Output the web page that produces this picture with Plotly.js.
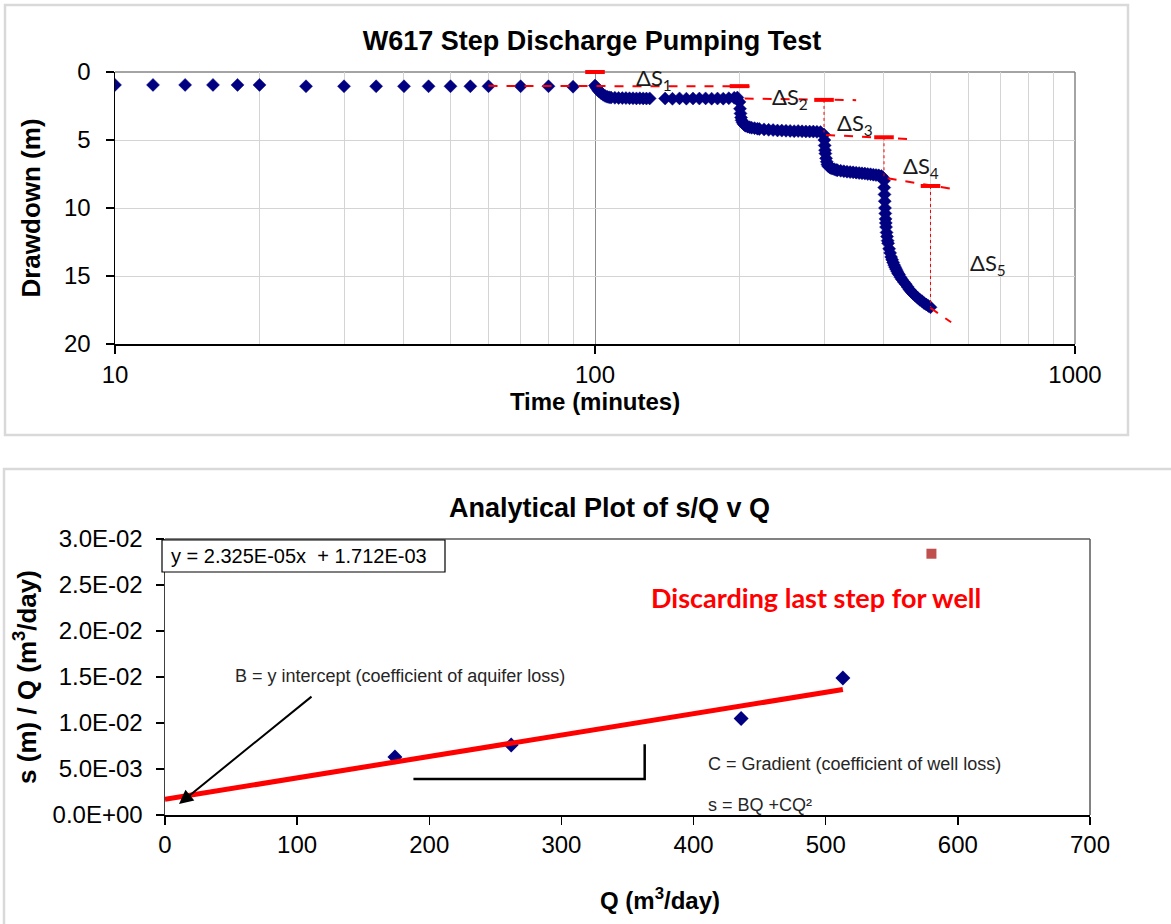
<!DOCTYPE html>
<html>
<head>
<meta charset="utf-8">
<script src="https://cdn.plot.ly/plotly-3.0.1.min.js"></script>
<style>
  html, body { margin: 0; padding: 0; background: #ffffff; }
  #chart { width: 1171px; height: 924px; }
</style>
</head>
<body>
<div id="chart"></div>
<script>
// ---------- Top chart data: W617 step discharge test (time in minutes, drawdown in m) ----------
const preTime   = [10, 12, 14, 16, 18, 20, 25, 30, 35, 40, 45, 50, 55, 60, 70, 80, 90];
const preDraw   = [0.95, 0.95, 0.95, 0.95, 0.95, 0.95, 1.05, 1.05, 1.05, 1.05, 1.05, 1.05, 1.05, 1.05, 1.05, 1.05, 1.08];

const step1Time = [100, 100.5, 101, 101.5, 102, 103, 104, 105, 106, 107, 108, 110, 112, 114, 116, 118, 120, 122, 124, 126, 128, 130,
                   140, 145, 150, 155, 160, 165, 170, 175, 180, 185, 190, 195, 198];
const step1Draw = [1.0, 1.1, 1.22, 1.33, 1.43, 1.57, 1.68, 1.76, 1.82, 1.86, 1.88, 1.9, 1.91, 1.92, 1.92, 1.93, 1.93, 1.94, 1.93, 1.94, 1.95, 1.94,
                   1.95, 1.97, 1.94, 1.96, 1.95, 1.95, 1.94, 1.96, 1.95, 1.96, 1.93, 1.9, 1.88];

const step2Time = [200, 200.5, 201, 201.5, 202, 203, 204, 205, 206, 208, 210, 212, 215, 218, 220, 225, 230, 235, 240, 245,
                   250, 255, 260, 265, 270, 275, 280, 285, 290, 295];
const step2Draw = [2.2, 2.7, 3.05, 3.35, 3.55, 3.72, 3.83, 3.9, 3.95, 4.02, 4.06, 4.1, 4.13, 4.17, 4.19, 4.22, 4.25, 4.27, 4.3, 4.31,
                   4.32, 4.33, 4.35, 4.34, 4.36, 4.37, 4.38, 4.38, 4.4, 4.42];

const step3Time = [300, 300.5, 301, 301.5, 302, 303, 304, 305, 306, 308, 310, 312, 315, 318, 320, 325, 330, 335, 340, 345,
                   350, 355, 360, 365, 370, 375, 380, 385, 390, 395, 398];
const step3Draw = [4.6, 5.0, 5.4, 5.75, 6.0, 6.35, 6.6, 6.8, 6.92, 7.0, 7.05, 7.1, 7.15, 7.2, 7.22, 7.26, 7.3, 7.33, 7.36, 7.38,
                   7.4, 7.43, 7.45, 7.47, 7.5, 7.52, 7.55, 7.58, 7.6, 7.65, 7.75];

const step4Time = [400, 400.5, 401, 401.5, 402, 402.5, 403, 403.5, 404, 405, 406, 407, 408, 410, 412, 414, 416, 418, 420, 422,
                   424, 426, 428, 430, 433, 436, 440, 444, 448, 452, 456, 460, 465, 470, 475, 480, 485, 490, 495, 500];
const step4Draw = [8.0, 8.5, 9.0, 9.5, 10.0, 10.4, 10.8, 11.1, 11.4, 11.8, 12.1, 12.4, 12.6, 13.0, 13.3, 13.6, 13.8, 14.0, 14.2, 14.35,
                   14.5, 14.65, 14.8, 14.9, 15.1, 15.25, 15.45, 15.6, 15.8, 16.0, 16.15, 16.3, 16.45, 16.6, 16.75, 16.85, 17.0, 17.1, 17.2, 17.3];

// extrapolation (Delta S) construction lines
const ds1Time = [60, 215],  ds1Draw = [1.02, 1.06];
const ds2Time = [205, 350], ds2Draw = [1.95, 2.07];
const ds3Time = [303, 452], ds3Draw = [4.63, 4.93];
const ds4Time = [407, 552], ds4Draw = [7.82, 8.58];
const ds5Time = [500, 552], ds5Draw = [17.35, 18.4];
// vertical drops
const drop2Time = [300, 300], drop2Draw = [2.05, 4.45];
const drop3Time = [400, 400], drop3Draw = [4.8, 7.75];
const drop4Time = [500, 500], drop4Draw = [8.38, 17.3];
// step markers (red dashes)
const markTime = [100, 200, 300, 400, 500];
const markDraw = [0, 1.04, 2.05, 4.8, 8.38];

const xTickVals1 = [10, 100, 1000];
const xTickText1 = ['10', '100', '1000'];
const xMinorVals1 = [20, 30, 40, 50, 60, 70, 80, 90, 200, 300, 400, 500, 600, 700, 800, 900];
const yTickVals1 = [0, 5, 10, 15, 20];

// ---------- Bottom chart data: s/Q vs Q ----------
const qValues   = [174, 262, 436, 513];
const sqValues  = [0.0063, 0.0076, 0.0105, 0.0149];
const qDiscard  = [580];
const sqDiscard = [0.0284];
const trendSlope = 2.325e-5;
const trendIntercept = 1.712e-3;
const trendQ = [0, 513];
const bracketQ  = [188, 363, 363];
const bracketSQ = [0.0039, 0.0039, 0.0077];

const xTickVals2 = [0, 100, 200, 300, 400, 500, 600, 700];
const yTickVals2 = [0, 0.005, 0.01, 0.015, 0.02, 0.025, 0.03];
const yTickText2 = ['0.0E+00', '5.0E-03', '1.0E-02', '1.5E-02', '2.0E-02', '2.5E-02', '3.0E-02'];

// ---------- helpers ----------
const W = 1171, H = 924;
const px = v => v / W;
const py = v => 1 - v / H;
const FONT = 'Liberation Sans, Arial, sans-serif';
const CAL = 'Lato, Carlito, Calibri, sans-serif';
const NAVY = '#000080';
const RED = '#ff0000';

const allTime = [].concat(preTime, step1Time, step2Time, step3Time, step4Time);
const allDraw = [].concat(preDraw, step1Draw, step2Draw, step3Draw, step4Draw);

function dashLine(t, d) {
  return {x: t, y: d, xaxis: 'x', yaxis: 'y', mode: 'lines', hoverinfo: 'skip',
          line: {color: RED, width: 2, dash: 'dash'}, showlegend: false};
}
function dotLine(t, d) {
  return {x: t, y: d, xaxis: 'x', yaxis: 'y', mode: 'lines', hoverinfo: 'skip',
          line: {color: RED, width: 1, dash: 'dot'}, showlegend: false};
}

const trendSQ = trendQ.map(q => trendSlope * q + trendIntercept);

const traces = [
  {x: allTime, y: allDraw, xaxis: 'x', yaxis: 'y', mode: 'markers', showlegend: false,
   marker: {symbol: 'diamond', size: 10, color: NAVY, line: {color: NAVY, width: 0.5}}},
  dashLine(ds1Time, ds1Draw), dashLine(ds2Time, ds2Draw), dashLine(ds3Time, ds3Draw),
  dashLine(ds4Time, ds4Draw), dashLine(ds5Time, ds5Draw),
  dotLine(drop2Time, drop2Draw), dotLine(drop3Time, drop3Draw), dotLine(drop4Time, drop4Draw),
  {x: markTime, y: markDraw, xaxis: 'x', yaxis: 'y', mode: 'markers', showlegend: false, cliponaxis: false,
   marker: {symbol: 'line-ew', size: 14, color: RED, line: {color: RED, width: 4}}},

  {x: qValues, y: sqValues, xaxis: 'x2', yaxis: 'y2', mode: 'markers', showlegend: false,
   marker: {symbol: 'diamond', size: 11.5, color: NAVY}},
  {x: qDiscard, y: sqDiscard, xaxis: 'x2', yaxis: 'y2', mode: 'markers', showlegend: false,
   marker: {symbol: 'square', size: 10, color: '#c0504d'}},
  {x: trendQ, y: trendSQ, xaxis: 'x2', yaxis: 'y2', mode: 'lines', showlegend: false,
   line: {color: RED, width: 5}},
  {x: bracketQ, y: bracketSQ, xaxis: 'x2', yaxis: 'y2', mode: 'lines', showlegend: false,
   line: {color: '#000000', width: 2.5}}
];

const tickFont = {family: FONT, size: 24, color: '#000'};
const xTitleFont = {family: FONT, size: 24, color: '#000'};
const yTitleFont = {family: FONT, size: 26, color: '#000'};

const layout = {
  width: W, height: H,
  margin: {l: 0, r: 0, t: 0, b: 0},
  paper_bgcolor: '#ffffff', plot_bgcolor: '#ffffff',
  showlegend: false,
  title: {text: '<b>W617 Step Discharge Pumping Test</b>', x: px(592), xanchor: 'center',
          y: py(41), yanchor: 'middle', font: {family: FONT, size: 27, color: '#000'}},
  xaxis: {
    type: 'log', domain: [px(115), px(1075)], range: [1, 3], anchor: 'y',
    tickmode: 'array', tickvals: xTickVals1, ticktext: xTickText1,
    ticks: 'outside', ticklen: 8, tickwidth: 1.5, tickcolor: '#000',
    showline: true, linecolor: '#000', linewidth: 1.5,
    showgrid: true, gridcolor: '#8c8c8c', gridwidth: 1,
    minor: {tickmode: 'array', tickvals: xMinorVals1, showgrid: true, gridcolor: '#d4d4d4', gridwidth: 1, ticks: ''},
    zeroline: false, tickfont: tickFont, ticklabelstandoff: 1,
    title: {text: '<b>Time (minutes)</b>', font: xTitleFont, standoff: 5}
  },
  yaxis: {
    domain: [py(344), py(72)], range: [20, 0], anchor: 'x',
    tickmode: 'array', tickvals: yTickVals1,
    ticks: 'outside', ticklen: 8, tickwidth: 1.5, tickcolor: '#000',
    showline: true, linecolor: '#000', linewidth: 1.5,
    showgrid: true, gridcolor: '#d4d4d4', gridwidth: 1,
    zeroline: false, tickfont: tickFont, ticklabelstandoff: 10,
    title: {text: '<b>Drawdown (m)</b>', font: yTitleFont, standoff: 16}
  },
  xaxis2: {
    domain: [px(165), px(1090)], range: [0, 700], anchor: 'y2',
    tickmode: 'array', tickvals: xTickVals2,
    ticks: 'outside', ticklen: 8, tickwidth: 1.5, tickcolor: '#000',
    showline: true, linecolor: '#000', linewidth: 1.5,
    showgrid: false, zeroline: false, tickfont: tickFont, ticklabelstandoff: 0
  },
  yaxis2: {
    domain: [py(815), py(539)], range: [0, 0.03], anchor: 'x2',
    tickmode: 'array', tickvals: yTickVals2, ticktext: yTickText2,
    ticks: 'outside', ticklen: 8, tickwidth: 1.5, tickcolor: '#000',
    showline: true, linecolor: '#404040', linewidth: 1.5,
    showgrid: false, zeroline: false, tickfont: tickFont, ticklabelstandoff: 8,
    title: {text: '<b>s (m) / Q (m<sup>3</sup>/day)</b>', font: yTitleFont, standoff: 8}
  },
  shapes: [
    // outer chart frames
    {type: 'rect', xref: 'paper', yref: 'paper', x0: px(5), x1: px(1128), y0: py(435), y1: py(5),
     line: {color: '#d9d9d9', width: 2.5}, fillcolor: 'rgba(0,0,0,0)', layer: 'below'},
    {type: 'rect', xref: 'paper', yref: 'paper', x0: px(4), x1: px(1180), y0: py(940), y1: py(469),
     line: {color: '#d9d9d9', width: 2.5}, fillcolor: 'rgba(0,0,0,0)', layer: 'below'},
    // plot area top / right borders
    {type: 'line', xref: 'x domain', yref: 'y domain', x0: 0, x1: 1, y0: 1, y1: 1, line: {color: '#868686', width: 1.5}, layer: 'below'},
    {type: 'line', xref: 'x domain', yref: 'y domain', x0: 1, x1: 1, y0: 0, y1: 1, line: {color: '#868686', width: 1.5}, layer: 'below'},
    {type: 'line', xref: 'x2 domain', yref: 'y2 domain', x0: 0, x1: 1, y0: 1, y1: 1, line: {color: '#595959', width: 1.5}, layer: 'below'},
    {type: 'line', xref: 'x2 domain', yref: 'y2 domain', x0: 1, x1: 1, y0: 0, y1: 1, line: {color: '#595959', width: 1.5}, layer: 'below'},
    // equation box
    {type: 'rect', xref: 'paper', yref: 'paper', x0: px(162), x1: px(445), y0: py(572), y1: py(540),
     line: {color: '#000000', width: 1.2}, fillcolor: '#ffffff', layer: 'above'}
  ],
  annotations: [
    {text: 'ΔS<sub>1</sub>', xref: 'paper', yref: 'paper', x: px(654), y: py(79), xanchor: 'center', yanchor: 'middle', showarrow: false, font: {family: CAL, size: 22, color: '#1a1a1a'}},
    {text: 'ΔS<sub>2</sub>', xref: 'paper', yref: 'paper', x: px(790), y: py(98), xanchor: 'center', yanchor: 'middle', showarrow: false, font: {family: CAL, size: 22, color: '#1a1a1a'}},
    {text: 'ΔS<sub>3</sub>', xref: 'paper', yref: 'paper', x: px(855), y: py(124), xanchor: 'center', yanchor: 'middle', showarrow: false, font: {family: CAL, size: 22, color: '#1a1a1a'}},
    {text: 'ΔS<sub>4</sub>', xref: 'paper', yref: 'paper', x: px(921), y: py(167), xanchor: 'center', yanchor: 'middle', showarrow: false, font: {family: CAL, size: 22, color: '#1a1a1a'}},
    {text: 'ΔS<sub>5</sub>', xref: 'paper', yref: 'paper', x: px(988), y: py(264), xanchor: 'center', yanchor: 'middle', showarrow: false, font: {family: CAL, size: 22, color: '#1a1a1a'}},

    {text: '<b>Analytical Plot of s/Q v Q</b>', xref: 'paper', yref: 'paper', x: px(609), y: py(508), xanchor: 'center', yanchor: 'middle', showarrow: false, font: {family: FONT, size: 27, color: '#000'}},
    {text: '<b>Q (m<sup>3</sup>/day)</b>', xref: 'paper', yref: 'paper', x: px(660), y: py(899), xanchor: 'center', yanchor: 'middle', showarrow: false, font: xTitleFont},
    {text: 'y = 2.325E-05x  + 1.712E-03', xref: 'paper', yref: 'paper', x: px(299), y: py(556), xanchor: 'center', yanchor: 'middle', showarrow: false, font: {family: FONT, size: 20, color: '#000'}},
    {text: '<b>Discarding last step for well</b>', xref: 'paper', yref: 'paper', x: px(816), y: py(597), xanchor: 'center', yanchor: 'middle', showarrow: false, font: {family: CAL, size: 27, color: RED}},
    {text: 'B = y intercept (coefficient of aquifer loss)', xref: 'paper', yref: 'paper', x: px(233), y: py(676), xanchor: 'left', yanchor: 'middle', showarrow: false, font: {family: FONT, size: 18, color: '#262626'}},
    {text: 'C = Gradient (coefficient of well loss)', xref: 'paper', yref: 'paper', x: px(706), y: py(764), xanchor: 'left', yanchor: 'middle', showarrow: false, font: {family: FONT, size: 18, color: '#262626'}},
    {text: 's = BQ +CQ²', xref: 'paper', yref: 'paper', x: px(706), y: py(805), xanchor: 'left', yanchor: 'middle', showarrow: false, font: {family: FONT, size: 18, color: '#262626'}},
    {text: '', xref: 'x2', yref: 'y2', x: 10.6, y: 0.0012, axref: 'x2', ayref: 'y2', ax: 112, ay: 0.013,
     showarrow: true, arrowhead: 2, arrowsize: 1.4, arrowwidth: 2, arrowcolor: '#000', standoff: 0}
  ]
};

Plotly.newPlot('chart', traces, layout, {staticPlot: true, displayModeBar: false});
</script>
</body>
</html>
